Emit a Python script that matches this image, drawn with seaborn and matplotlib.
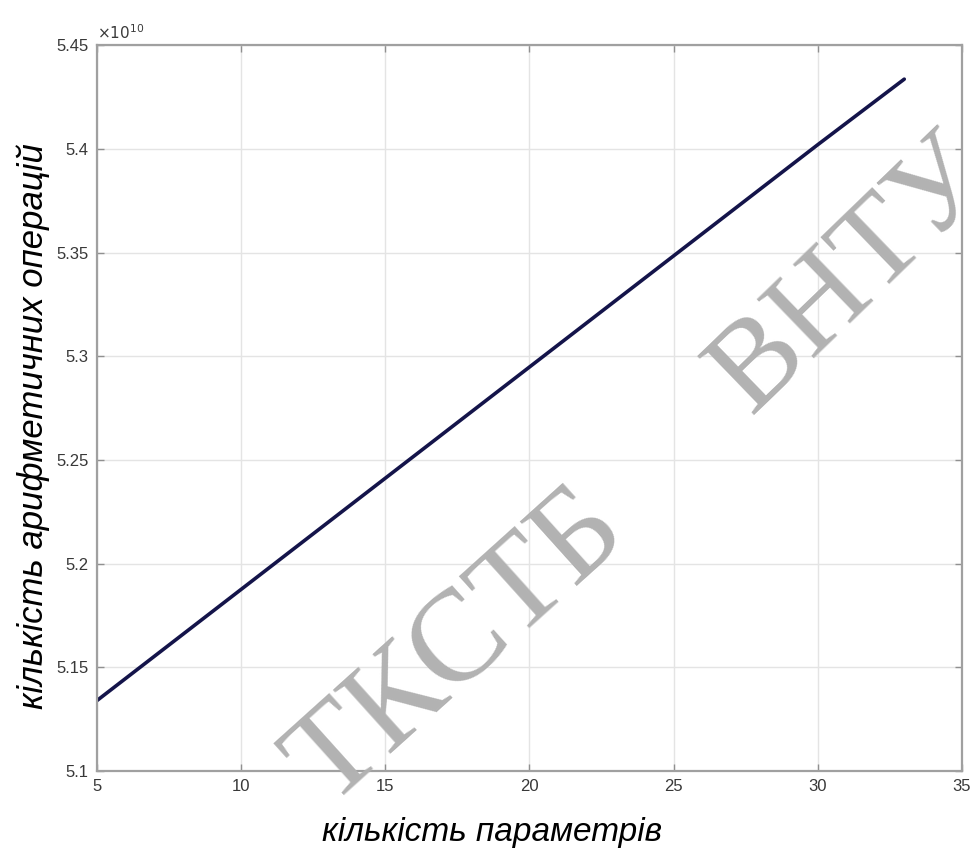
import numpy as np
import pandas as pd
import matplotlib
matplotlib.use("Agg")
import matplotlib.pyplot as plt
from matplotlib.ticker import FuncFormatter
import seaborn as sns

# number of parameters vs. number of arithmetic operations
params = [5, 10, 15, 20, 25, 30, 33]
operations = [5.134e10, 5.1876e10, 5.2412e10, 5.2948e10, 5.3484e10, 5.402e10, 5.4336e10]

x_ticks = [5, 10, 15, 20, 25, 30, 35]
y_ticks = [5.10e10, 5.15e10, 5.20e10, 5.25e10, 5.30e10, 5.35e10, 5.40e10, 5.45e10]

x_label = "кількість параметрів"
y_label = "кількість арифметичних операцій"
marks = ["ВНТУ", "ТКСТБ"]

sns.set_theme(style="whitegrid")
plt.rcParams["font.family"] = ["Liberation Sans", "DejaVu Sans"]

df = pd.DataFrame({"params": params, "ops": operations})

fig = plt.figure(figsize=(9.74, 8.5), dpi=100)
ax = fig.add_axes([0.0996, 0.0929, 0.888, 0.854])

sns.lineplot(data=df, x="params", y="ops", ax=ax, color="#14144a", linewidth=2.6)

ax.set_xlim(5, 35)
ax.set_ylim(5.10e10, 5.45e10)
ax.set_xticks(x_ticks)
ax.set_yticks(y_ticks)
ax.yaxis.set_major_formatter(FuncFormatter(lambda v, p: f"{v / 1e10:g}"))
ax.xaxis.set_major_formatter(FuncFormatter(lambda v, p: f"{v:g}"))

ax.set_facecolor("white")
ax.grid(True, color="#e4e4e4", linewidth=1.0)
for side in ax.spines.values():
    side.set_visible(True)
    side.set_color("#a0a0a0")
    side.set_linewidth(1.6)

ax.tick_params(axis="both", which="major", direction="in", length=5, width=1,
               color="#909090", labelsize=12, labelcolor="#383838",
               top=True, right=True, bottom=True, left=True, pad=6)

ax.text(0.0, 1.005, r"$\times10^{10}$", transform=ax.transAxes, fontsize=11,
        color="#3a3a3a", ha="left", va="bottom")

ax.set_xlabel(x_label, fontsize=24, style="italic", color="black")
ax.set_ylabel(y_label, fontsize=25, style="italic", color="black")
ax.xaxis.set_label_coords(0.457, -0.064)
ax.yaxis.set_label_coords(-0.054, 0.475)

# watermark
fig.text(852 / 974, 1 - 276 / 850, marks[0], fontsize=90, family="Liberation Serif",
         color="#b2b2b2", rotation=44, ha="center", va="center", rotation_mode="anchor",
         zorder=10)
fig.text(458 / 974, 1 - 648 / 850, marks[1], fontsize=94, family="Liberation Serif",
         color="#b2b2b2", rotation=42, ha="center", va="center", rotation_mode="anchor",
         zorder=10)

fig.savefig("out.png", dpi=100, facecolor="white")
